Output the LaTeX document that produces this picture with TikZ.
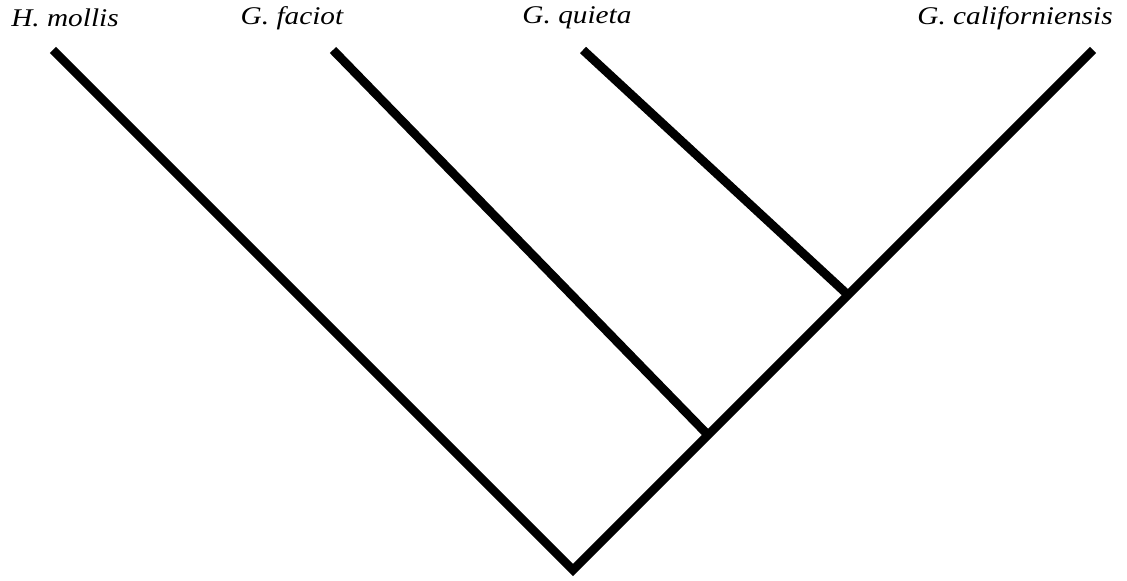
\documentclass[tikz,border=0pt]{standalone}
\usepackage{fontspec}
\setmainfont{Liberation Serif}
\usepackage{tikz}
\usetikzlibrary{positioning}

\tikzset{
  branch/.style={line width=5pt, line join=miter},
  taxon/.style={font=\fontsize{14.5}{16}\selectfont\itshape, xscale=1.15, inner sep=0pt}
}

\begin{document}
\begin{tikzpicture}[x=0.02cm, y=-0.02cm]
\useasboundingbox (0,0) rectangle (1127,581);
% tips and internal nodes
\coordinate (root) at (573,570);
\coordinate (n1) at (708,435);
\coordinate (n2) at (848,295);
\coordinate (tmol) at (53,50);
\coordinate (tfac) at (333,50);
\coordinate (tqui) at (583,50);
\coordinate (tcal) at (1093,50);
% taxa
\node[taxon] (mol) at (65,18) {H. mollis};
\node[taxon] (fac) at (292,18) {G. faciot};
\node[taxon] (qui) at (577,18) {G. quieta};
\node[taxon] (cal) at (1015,18) {G. californiensis};
% tree
\draw[branch] (tmol) -- (root) -- (n1) -- (n2) -- (tcal);
\draw[branch] (n1) -- (tfac);
\draw[branch] (n2) -- (tqui);
\end{tikzpicture}
\end{document}
